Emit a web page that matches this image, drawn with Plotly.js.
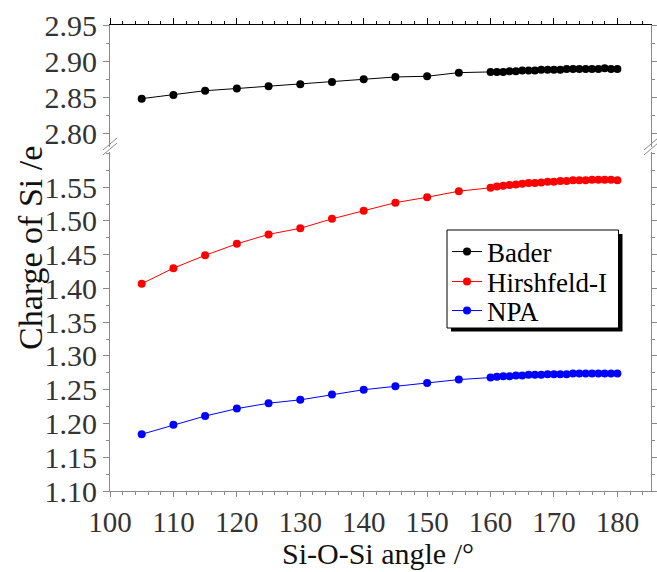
<!DOCTYPE html>
<html>
<head>
<meta charset="utf-8">
<script src="https://cdn.plot.ly/plotly-3.0.1.min.js"></script>
<style>html,body{margin:0;padding:0;background:#fff}#chart{width:657px;height:572px}</style>
</head>
<body>
<div id="chart"></div>
<script>
// Si-O-Si angle (degrees)
const angles = [105,110,115,120,125,130,135,140,145,150,155,160,
  161,162,163,164,165,166,167,168,169,170,171,172,173,174,175,176,177,178,179,180];
// Bader charges
const bader = [2.848,2.853,2.859,2.862,2.865,2.868,2.871,2.875,2.878,2.879,2.884,2.885,
  2.885,2.885,2.886,2.886,2.887,2.887,2.887,2.888,2.888,2.888,2.888,2.889,2.889,2.889,2.889,2.889,2.889,2.890,2.889,2.889];
// Hirshfeld-I charges
const hirsh = [1.407,1.430,1.449,1.466,1.480,1.489,1.503,1.515,1.527,1.535,1.544,1.549,
  1.551,1.552,1.553,1.554,1.555,1.556,1.556,1.557,1.558,1.558,1.559,1.559,1.560,1.560,1.560,1.561,1.561,1.561,1.561,1.560];
// NPA charges
const npa = [1.184,1.198,1.211,1.222,1.230,1.235,1.243,1.250,1.255,1.260,1.265,1.268,
  1.269,1.270,1.270,1.271,1.271,1.272,1.272,1.272,1.273,1.273,1.273,1.273,1.274,1.274,1.274,1.274,1.274,1.274,1.274,1.274];
const seriesNames = ["Bader","Hirshfeld-I","NPA"];
const xTicks = [100,110,120,130,140,150,160,170,180];
const yTicksLow = [1.10,1.15,1.20,1.25,1.30,1.35,1.40,1.45,1.50,1.55];
const yTicksHigh = [2.80,2.85,2.90,2.95];

const FONT = "Liberation Serif, Times New Roman, serif";
const L = 110, R = 651, T = 25, B = 491;
const px = v => (v - L) / (R - L);
const py = v => (B - v) / (B - T);

const traces = [
  {x: angles, y: bader, name: seriesNames[0], xaxis: 'x2', yaxis: 'y2', mode: 'lines+markers', legend: 'legend',
   line: {color: '#000000', width: 1}, marker: {color: '#000000', size: 8}},
  {x: angles, y: hirsh, name: seriesNames[1], xaxis: 'x', yaxis: 'y', mode: 'lines+markers', legend: 'legend2',
   line: {color: '#ff0000', width: 1}, marker: {color: '#ff0000', size: 8}},
  {x: angles, y: npa, name: seriesNames[2], xaxis: 'x', yaxis: 'y', mode: 'lines+markers', legend: 'legend3',
   line: {color: '#0000ff', width: 1}, marker: {color: '#0000ff', size: 8}}
];

const axCol = '#8a8a8a';
const tickFont = {family: FONT, size: 30, color: '#333333'};
const xTickFont = {family: FONT, size: 29, color: '#333333'};
const upperBottom = py(147), lowerTop = py(152);

function brk(xp) {
  const s = [];
  [0, 5].forEach(o => {
    s.push({type: 'line', xref: 'paper', yref: 'paper', layer: 'above',
      x0: px(xp - 7), y0: py(155 - o), x1: px(xp + 7), y1: py(143 - o),
      line: {color: '#8a8a8a', width: 1}});
  });
  return s;
}
function leg(yc) {
  return {x: px(447), y: py(yc), xanchor: 'left', yanchor: 'middle',
    bgcolor: 'rgba(0,0,0,0)', borderwidth: 0,
    font: {family: FONT, size: 27, color: '#000000'}, itemwidth: 30};
}

const layout = {
  width: 657, height: 572,
  margin: {l: L, r: 657 - R, t: T, b: 572 - B},
  paper_bgcolor: '#ffffff', plot_bgcolor: '#ffffff',
  font: {family: FONT, color: '#333333'},
  showlegend: true,
  legend: leg(252), legend2: leg(282), legend3: leg(311),
  xaxis: {domain: [0, 1], anchor: 'y', range: [100, 185.3], tickvals: xTicks,
    ticks: 'outside', ticklen: 5, tickcolor: axCol, tickwidth: 1,
    minor: {dtick: 2, ticks: 'outside', ticklen: 3, tickcolor: axCol},
    showline: true, linecolor: axCol, linewidth: 1, mirror: false, showgrid: false, zeroline: false,
    tickfont: xTickFont},
  xaxis2: {domain: [0, 1], anchor: 'y2', side: 'top', matches: 'x', range: [100, 185.3], tickvals: xTicks,
    ticks: 'outside', ticklen: 6, tickcolor: '#000000', tickwidth: 1,
    minor: {dtick: 2, ticks: 'outside', ticklen: 3, tickcolor: '#000000'},
    showline: true, linecolor: '#000000', linewidth: 1, showticklabels: false, showgrid: false, zeroline: false},
  yaxis: {domain: [0, lowerTop], anchor: 'x', range: [1.10, 1.602], tickvals: yTicksLow,
    tickformat: '.2f', ticks: 'outside', ticklen: 6, tickcolor: axCol,
    minor: {dtick: 0.025, ticks: 'outside', ticklen: 3, tickcolor: axCol},
    showline: true, linecolor: axCol, linewidth: 1, mirror: 'ticks', showgrid: false, zeroline: false,
    tickfont: tickFont},
  yaxis2: {domain: [upperBottom, 1], anchor: 'x2', range: [2.781, 2.95], tickvals: yTicksHigh,
    tickformat: '.2f', ticks: 'outside', ticklen: 6, tickcolor: axCol,
    minor: {dtick: 0.025, ticks: 'outside', ticklen: 3, tickcolor: axCol},
    showline: true, linecolor: axCol, linewidth: 1, mirror: 'ticks', showgrid: false, zeroline: false,
    tickfont: tickFont},
  annotations: [
    {text: 'Charge of Si /e', xref: 'paper', yref: 'paper', x: px(30), y: py(248),
     textangle: -90, showarrow: false, xanchor: 'center', yanchor: 'middle',
     font: {family: FONT, size: 34, color: '#111111'}},
    {text: 'Si-O-Si angle /°', xref: 'paper', yref: 'paper', x: px(378), y: py(553),
     showarrow: false, xanchor: 'center', yanchor: 'middle', borderpad: 0,
     font: {family: FONT, size: 30, color: '#111111'}}
  ],
  shapes: [].concat(brk(L), brk(R), [
    {type: 'rect', xref: 'paper', yref: 'paper', layer: 'above',
     x0: px(451), x1: px(622.5), y0: py(234), y1: py(331.5), fillcolor: '#000000', line: {width: 0}},
    {type: 'rect', xref: 'paper', yref: 'paper', layer: 'above',
     x0: px(447), x1: px(618.5), y0: py(230), y1: py(328), fillcolor: '#ffffff', line: {color: '#000000', width: 1}}
  ])
};

Plotly.newPlot('chart', traces, layout, {displayModeBar: false, staticPlot: true});
</script>
</body>
</html>
